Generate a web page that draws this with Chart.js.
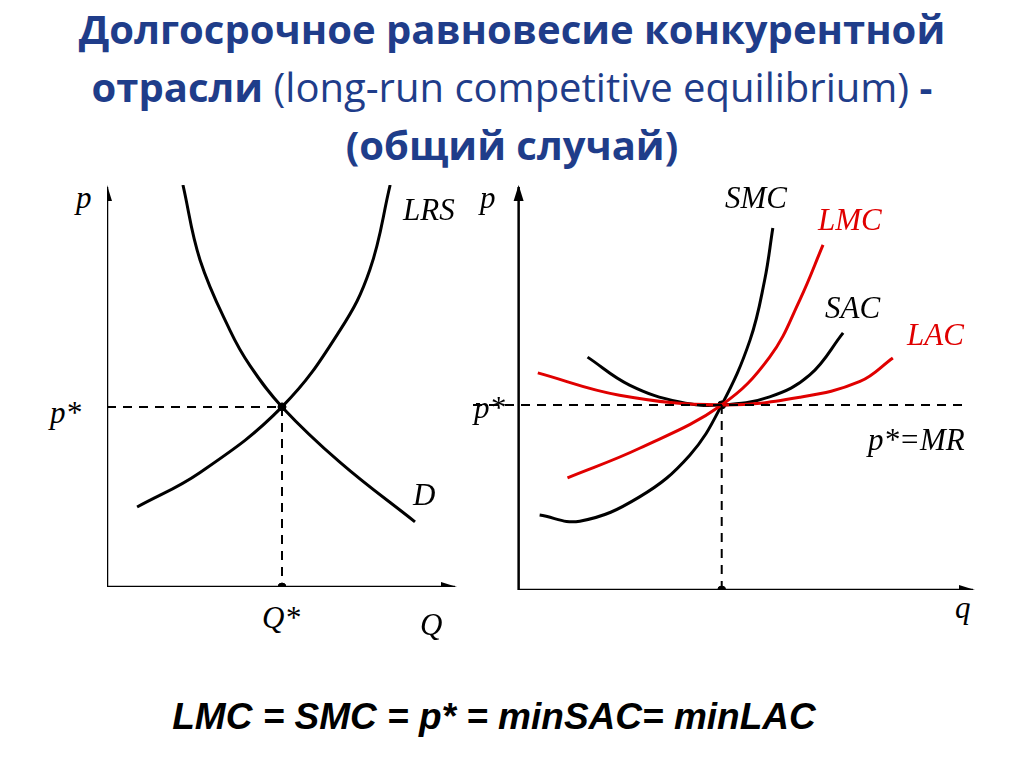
<!DOCTYPE html>
<html>
<head>
<meta charset="utf-8">
<script src="https://cdn.jsdelivr.net/npm/chart.js@4"></script>
<style>
body { margin:0; width:1024px; height:767px; background:#fff; position:relative; overflow:hidden; }
.title { position:absolute; left:0; top:0px; width:1024px; text-align:center; color:#1f3d8a; font:bold 40px "Open Sans", sans-serif; line-height:58px; }
.title .n { font-weight:normal; }
.lbl { position:absolute; font:italic 31px "Liberation Serif", serif; color:#000; white-space:nowrap; }
.red { color:#e00000; }
.formula { position:absolute; left:0; width:988px; top:696px; text-align:center; font:italic bold 37px "Liberation Sans", sans-serif; }
canvas { position:absolute; }
</style>
</head>
<body>
<div class="title">Долгосрочное равновесие конкурентной<br>отрасли <span class="n">(long-run competitive equilibrium)</span> -<br>(общий случай)</div>

<div style="position:absolute;left:107px;top:185px;width:350px;height:402px"><canvas id="left"></canvas></div>
<div style="position:absolute;left:473px;top:185px;width:502px;height:405px"><canvas id="right"></canvas></div>

<span class="lbl" style="left:76px;top:180px">p</span>
<span class="lbl" style="left:403px;top:192px">LRS</span>
<span class="lbl" style="left:50px;top:395px">p*</span>
<span class="lbl" style="left:413px;top:477px">D</span>
<span class="lbl" style="left:262px;top:600px">Q*</span>
<span class="lbl" style="left:420px;top:607px">Q</span>

<span class="lbl" style="left:480px;top:180px">p</span>
<span class="lbl" style="left:725px;top:180px">SMC</span>
<span class="lbl red" style="left:818px;top:202px">LMC</span>
<span class="lbl" style="left:825px;top:290px">SAC</span>
<span class="lbl red" style="left:907px;top:317px">LAC</span>
<span class="lbl" style="left:474px;top:390px">p*</span>
<span class="lbl" style="left:868px;top:422px">p*=MR</span>
<span class="lbl" style="left:955px;top:590px">q</span>

<div class="formula">LMC = SMC = p* = minSAC= minLAC</div>

<script>
// left panel (market)
const pStarL = 4.48;
const qStarL = 5;
const demand = [[2.17,10],[2.66,8.13],[3.51,6.39],[4.09,5.5],[5,4.48],[6.66,3.1],[8.8,1.62]];
const lrs = [[0.86,1.99],[2.66,2.85],[5,4.48],[6.66,6.39],[7.51,7.89],[8.09,10]];

// right panel (firm)
const pStarR = 4.57;
const qStarR = 4.45;
const smc = [[0.46,1.85],[1.34,1.7],[2.65,2.3],[3.75,3.33],[4.45,4.57],[5.07,6.17],[5.39,7.65],[5.57,8.94]];
const lmc = [[1.07,2.77],[2.65,3.5],[4.45,4.57],[5.5,5.75],[6.16,7.16],[6.67,8.52]];
const sac = [[1.51,5.75],[2.43,5.06],[3.53,4.64],[4.45,4.57],[5.5,4.77],[6.38,5.31],[7.11,6.35]];
const lac = [[0.42,5.36],[2.21,4.81],[4.45,4.57],[6.16,4.76],[7.48,5.15],[8.2,5.73]];

const pts = arr => arr.map(p => ({x: p[0], y: p[1]}));

function curve(data, color) {
    return { data: pts(data), borderColor: color, borderWidth: 3, pointRadius: 0,
             tension: 0.4, fill: false };
}
function dashed(data) {
    return { data: pts(data), borderColor: '#000', borderWidth: 2, borderDash: [9, 7],
             pointRadius: 0, fill: false };
}
function dots(data) {
    return { data: pts(data), showLine: false, pointRadius: 4, pointBackgroundColor: '#000',
             pointBorderColor: '#000', clip: false };
}

// draw axes with arrows at x=0, y=0
const axesPlugin = {
    id: 'axes',
    afterDatasetsDraw(chart) {
        const {ctx, scales: {x, y}} = chart;
        const x0 = x.getPixelForValue(0), y0 = y.getPixelForValue(0);
        const top = y.getPixelForValue(y.max), right = x.getPixelForValue(x.max);
        ctx.save();
        ctx.strokeStyle = '#000'; ctx.fillStyle = '#000'; ctx.lineWidth = 2.5;
        ctx.beginPath(); ctx.moveTo(x0, y0); ctx.lineTo(x0, top + 2); ctx.stroke();
        ctx.beginPath(); ctx.moveTo(x0, y0); ctx.lineTo(right - 2, y0); ctx.stroke();
        ctx.beginPath(); ctx.moveTo(x0, top); ctx.lineTo(x0 - 5, top + 16); ctx.lineTo(x0 + 5, top + 16); ctx.fill();
        ctx.beginPath(); ctx.moveTo(right, y0); ctx.lineTo(right - 16, y0 - 5); ctx.lineTo(right - 16, y0 + 5); ctx.fill();
        ctx.restore();
    }
};

function makeChart(id, datasets, xmin) {
    new Chart(document.getElementById(id), {
        type: 'line',
        data: { datasets: datasets },
        options: {
            responsive: true, maintainAspectRatio: false, animation: false,
            layout: { padding: 0, autoPadding: false },
            plugins: { legend: { display: false }, tooltip: { enabled: false } },
            scales: {
                x: { type: 'linear', min: xmin, max: 10, display: false },
                y: { type: 'linear', min: 0, max: 10, display: false }
            }
        },
        plugins: [axesPlugin]
    });
}

makeChart('left', [
    dashed([[0, pStarL], [qStarL, pStarL]]),
    dashed([[qStarL, pStarL], [qStarL, 0]]),
    curve(demand, '#000'),
    curve(lrs, '#000'),
    dots([[qStarL, pStarL], [qStarL, 0]])
], 0);

makeChart('right', [
    dashed([[-1, pStarR], [9.8, pStarR]]),
    dashed([[qStarR, pStarR], [qStarR, 0]]),
    curve(lac, '#e00000'),
    curve(lmc, '#e00000'),
    curve(sac, '#000'),
    curve(smc, '#000'),
    dots([[qStarR, pStarR], [qStarR, 0]])
], -1);
</script>
</body>
</html>
